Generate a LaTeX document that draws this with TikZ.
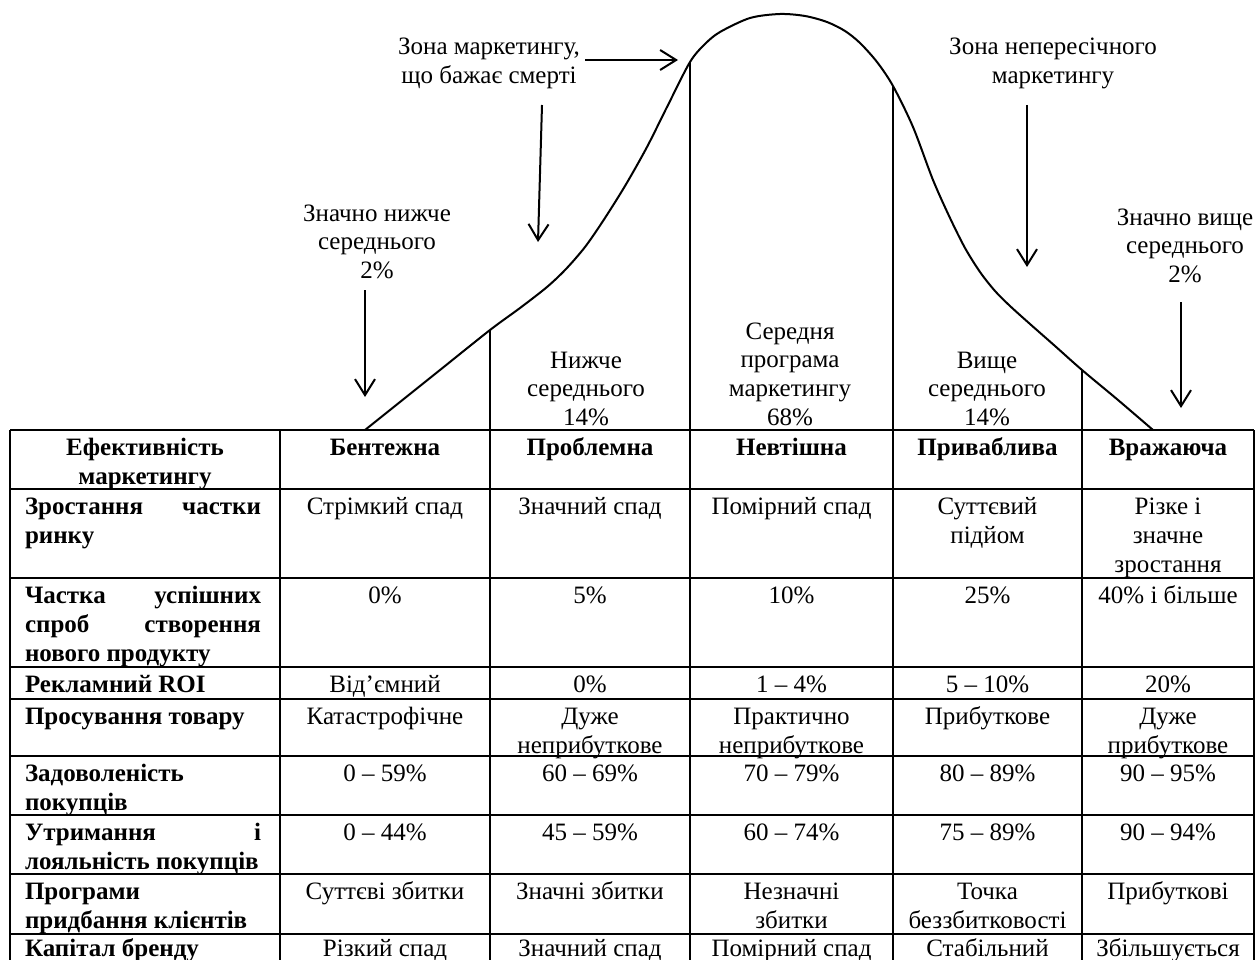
\documentclass[tikz,border=0pt]{standalone}
\usepackage{fontspec}
\setmainfont{Liberation Serif}
\usetikzlibrary{arrows.meta}
\newcommand\fs{\fontsize{25}{28.75}\selectfont}
\newcommand\mlc[1]{\begin{tabular}[t]{@{}c@{}}#1\end{tabular}}
\newcommand\mll[1]{\begin{tabular}[t]{@{}l@{}}#1\end{tabular}}
\newcommand\jst[1]{\makebox[236pt][s]{#1}}
\begin{document}
\begin{tikzpicture}[x=1pt,y=-1pt,
  every node/.style={inner sep=0pt, outer sep=0pt, font=\fs},
  grid/.style={line width=1.2pt},
  curve/.style={line width=2pt, line join=round},
  arr/.style={line width=2pt, -{Straight Barb[length=16pt,width=20pt]}},
  lbl/.style={anchor=base},
  hd/.style={anchor=base, font=\fs\bfseries},
  fc/.style={anchor=base west, font=\fs\bfseries},
  dc/.style={anchor=base}]
\useasboundingbox (0,0) rectangle (1257,960);
\clip (0,0) rectangle (1257,960);

% bell curve
\draw[curve] plot[smooth, tension=0.5] coordinates {
  (365,430) (400,402) (440,370) (490,330) (520,308) (547,287) (566,269)
  (585,247) (603,221) (625,186) (647,147) (668,105) (690,62) (705,44)
  (720,32) (750,18) (780,14) (805,16) (827,22) (845,31) (860,43) (877,62)
  (893,86) (913,127) (933,180) (950,218) (965,248) (980,272) (995,291)
  (1010,306) (1030,324) (1055,346) (1082,370) (1118,400) (1153,430)};
\draw[curve] (490,330) -- (490,430);
\draw[curve] (690,62) -- (690,430);
\draw[curve] (893,86) -- (893,430);
\draw[curve] (1082,370) -- (1082,430);

% labels above the table
\node[lbl] (zm) at (489,55) {\mlc{Зона маркетингу,\\що бажає смерті}};
\node[lbl] (zn) at (1053,55) {\mlc{Зона непересічного\\маркетингу}};
\node[lbl] (zl) at (377,221) {\mlc{Значно нижче\\середнього\\2\%}};
\node[lbl] (zh) at (1185,225) {\mlc{Значно вище\\середнього\\2\%}};
\node[lbl] (nl) at (586,368) {\mlc{Нижче\\середнього\\14\%}};
\node[lbl] (md) at (790,339) {\mlc{Середня\\програма\\маркетингу\\68\%}};
\node[lbl] (ab) at (987,368) {\mlc{Вище\\середнього\\14\%}};

% arrows
\coordinate (a1s) at (585,60);   \coordinate (a1e) at (678,60);
\coordinate (a2s) at (542,105);  \coordinate (a2e) at (538,242);
\coordinate (a3s) at (365,290);  \coordinate (a3e) at (365,397);
\coordinate (a4s) at (1027,105); \coordinate (a4e) at (1027,267);
\coordinate (a5s) at (1181,302); \coordinate (a5e) at (1181,408);
\draw[arr] (a1s) -- (a1e);
\draw[arr] (a2s) -- (a2e);
\draw[arr] (a3s) -- (a3e);
\draw[arr] (a4s) -- (a4e);
\draw[arr] (a5s) -- (a5e);

% table grid
\foreach \yy in {430,489,578,667,699,756,815,874,934}
  \draw[grid] (10,\yy) -- (1254,\yy);
\foreach \xx in {10,280,490,690,893,1082,1254}
  \draw[grid] (\xx,430) -- (\xx,980);

% header row
\node[hd] (h1) at (145,455.5) {\mlc{Ефективність\\маркетингу}};
\node[hd] (h2) at (385,455.5) {Бентежна};
\node[hd] (h3) at (590,455.5) {Проблемна};
\node[hd] (h4) at (791.5,455.5) {Невтішна};
\node[hd] (h5) at (987.5,455.5) {Приваблива};
\node[hd] (h6) at (1168,455.5) {Вражаюча};

% row 1
\node[fc] (r1a) at (25,514.5) {\mll{\jst{Зростання частки}\\ринку}};
\node[dc] (r1b) at (385,514.5) {Стрімкий спад};
\node[dc] (r1c) at (590,514.5) {Значний спад};
\node[dc] (r1d) at (791.5,514.5) {Помірний спад};
\node[dc] (r1e) at (987.5,514.5) {\mlc{Суттєвий\\підйом}};
\node[dc] (r1f) at (1168,514.5) {\mlc{Різке і\\значне\\зростання}};

% row 2
\node[fc] (r2a) at (25,603.5) {\mll{\jst{Частка успішних}\\\jst{спроб створення}\\нового продукту}};
\node[dc] (r2b) at (385,603.5) {0\%};
\node[dc] (r2c) at (590,603.5) {5\%};
\node[dc] (r2d) at (791.5,603.5) {10\%};
\node[dc] (r2e) at (987.5,603.5) {25\%};
\node[dc] (r2f) at (1168,603.5) {40\% і більше};

% row 3
\node[fc] (r3a) at (25,692.5) {Рекламний ROI};
\node[dc] (r3b) at (385,692.5) {Від’ємний};
\node[dc] (r3c) at (590,692.5) {0\%};
\node[dc] (r3d) at (791.5,692.5) {1 -- 4\%};
\node[dc] (r3e) at (987.5,692.5) {5 -- 10\%};
\node[dc] (r3f) at (1168,692.5) {20\%};

% row 4
\node[fc] (r4a) at (25,724.5) {Просування товару};
\node[dc] (r4b) at (385,724.5) {Катастрофічне};
\node[dc] (r4c) at (590,724.5) {\mlc{Дуже\\неприбуткове}};
\node[dc] (r4d) at (791.5,724.5) {\mlc{Практично\\неприбуткове}};
\node[dc] (r4e) at (987.5,724.5) {Прибуткове};
\node[dc] (r4f) at (1168,724.5) {\mlc{Дуже\\прибуткове}};

% row 5
\node[fc] (r5a) at (25,781.5) {\mll{Задоволеність\\покупців}};
\node[dc] (r5b) at (385,781.5) {0 -- 59\%};
\node[dc] (r5c) at (590,781.5) {60 -- 69\%};
\node[dc] (r5d) at (791.5,781.5) {70 -- 79\%};
\node[dc] (r5e) at (987.5,781.5) {80 -- 89\%};
\node[dc] (r5f) at (1168,781.5) {90 -- 95\%};

% row 6
\node[fc] (r6a) at (25,840.5) {\mll{\jst{Утримання і}\\лояльність покупців}};
\node[dc] (r6b) at (385,840.5) {0 -- 44\%};
\node[dc] (r6c) at (590,840.5) {45 -- 59\%};
\node[dc] (r6d) at (791.5,840.5) {60 -- 74\%};
\node[dc] (r6e) at (987.5,840.5) {75 -- 89\%};
\node[dc] (r6f) at (1168,840.5) {90 -- 94\%};

% row 7
\node[fc] (r7a) at (25,899.5) {\mll{Програми\\придбання клієнтів}};
\node[dc] (r7b) at (385,899.5) {Суттєві збитки};
\node[dc] (r7c) at (590,899.5) {Значні збитки};
\node[dc] (r7d) at (791.5,899.5) {\mlc{Незначні\\збитки}};
\node[dc] (r7e) at (987.5,899.5) {\mlc{Точка\\беззбитковості}};
\node[dc] (r7f) at (1168,899.5) {Прибуткові};

% row 8
\node[fc] (r8a) at (25,956) {Капітал бренду};
\node[dc] (r8b) at (385,956) {Різкий спад};
\node[dc] (r8c) at (590,956) {Значний спад};
\node[dc] (r8d) at (791.5,956) {Помірний спад};
\node[dc] (r8e) at (987.5,956) {Стабільний};
\node[dc] (r8f) at (1168,956) {Збільшується};
\end{tikzpicture}
\end{document}
